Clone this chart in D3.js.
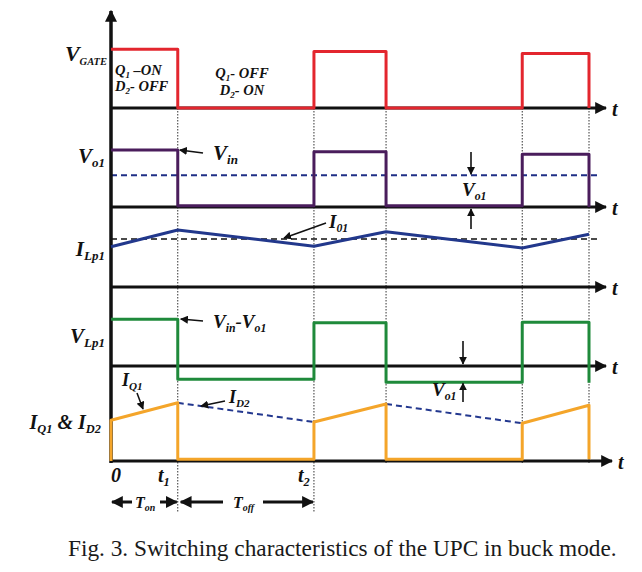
<!DOCTYPE html>
<html>
<head>
<meta charset="utf-8">
<script src="https://cdn.jsdelivr.net/npm/d3@7"></script>
<style>
  body { margin:0; background:#fff; }
  svg  { display:block; }
  .lbl { font-family:"Liberation Serif","Times New Roman",serif; font-weight:bold;
         font-style:italic; fill:#111; }
  .cap { font-family:"Liberation Serif","Times New Roman",serif; fill:#1a1a1a; }
</style>
</head>
<body>
<svg id="chart" width="642" height="572"></svg>
<script>
//------------------------------------------------------------------------
// Waveform data (time in units of Ton, levels relative to each trace's axis)
const edges     = [0, 1.0, 3.04, 4.12, 6.16, 7.16];   // 0, t1, t2, ...
const gateHigh  = [0.98, 0.94, 0.91];
const gateLow   = [0, 0, 0];
const vo1High   = [0.95, 0.92, 0.88];
const vo1Low    = [0.02, 0.02, 0];
const vo1Avg    = 0.53;
const iLp1      = [0.67, 0.95, 0.68, 0.92, 0.65, 0.88];
const i01       = 0.8;
const vLp1High  = [0.78, 0.72, 0.73];
const vLp1Low   = [-0.22, -0.27, -0.28];
const iQ1Start  = [0.68, 0.65, 0.63];
const iQ1Peak   = [0.97, 0.95, 0.93];
const iSwLow    = 0.03;

// Layout
const x0 = 111, tMax = 7.16, xMax = 589;
const baselines = [108, 207, 287, 366, 461];   // gate, Vo1, ILp1, VLp1, IQ1/ID2
const unitPx = 60;

const svg = d3.select('#chart');
const xScale = d3.scaleLinear().domain([0, tMax]).range([x0, xMax]);
const yScales = baselines.map(b => d3.scaleLinear().domain([0, 1]).range([b, b - unitPx]));
const line = (ys) => d3.line().x(d => xScale(d[0])).y(d => ys(d[1]));

// Arrow markers
const defs = svg.append('defs');
[['ah', 8], ['ahBig', 12]].forEach(([id, s]) => {
    defs.append('marker').attr('id', id).attr('viewBox', '0 0 10 10')
        .attr('refX', 9).attr('refY', 5).attr('markerWidth', s).attr('markerHeight', s)
        .attr('markerUnits', 'userSpaceOnUse').attr('orient', 'auto-start-reverse')
        .append('path').attr('d', 'M0,0L10,5L0,10z').attr('fill', '#111');
});

//------------------------------------------------------------------------
// Square pulse builder: high from edges[2k] to edges[2k+1], then lows[k]
function square(highs, lows) {
    const pts = [];
    highs.forEach((h, k) => {
        const a = edges[2*k], b = edges[2*k+1];
        if (k > 0) pts.push([a, lows[k-1]]);
        pts.push([a, h], [b, h], [b, lows[k]]);
        if (k < highs.length - 1) pts.push([edges[2*k+2], lows[k]]);
    });
    return pts;
}

// Switch currents (IQ1 ramps, returns to zero when off)
function switchCurrent() {
    const pts = [[0, 0]];
    iQ1Start.forEach((s, k) => {
        const a = edges[2*k], b = edges[2*k+1];
        if (k > 0) pts.push([a, iSwLow]);
        pts.push([a, s], [b, iQ1Peak[k]], [b, iSwLow]);
        if (k < iQ1Start.length - 1) pts.push([edges[2*k+2], iSwLow]);
    });
    return pts;
}

// Dotted switching instants
const gDot = svg.append('g');
edges.slice(1).forEach((t, i) => {
    gDot.append('line').attr('x1', xScale(t)).attr('x2', xScale(t))
        .attr('y1', baselines[0]).attr('y2', i < 2 ? 513 : 463)
        .attr('stroke', '#333').attr('stroke-width', 1).attr('stroke-dasharray', '1.5,1.5');
});

// Reference dashed lines
svg.append('line').attr('x1', x0).attr('x2', 598)
   .attr('y1', yScales[1](vo1Avg)).attr('y2', yScales[1](vo1Avg))
   .attr('stroke', '#1f2f86').attr('stroke-width', 2).attr('stroke-dasharray', '6,4');
svg.append('line').attr('x1', x0).attr('x2', 600)
   .attr('y1', yScales[2](i01)).attr('y2', yScales[2](i01))
   .attr('stroke', '#111').attr('stroke-width', 1.6).attr('stroke-dasharray', '6,4');

// ID2 dashed ramps
for (let k = 0; k < 2; k++) {
    svg.append('path')
       .datum([[edges[2*k+1], iQ1Peak[k]], [edges[2*k+2], iQ1Start[k+1]]])
       .attr('d', line(yScales[4])).attr('fill', 'none')
       .attr('stroke', '#23388f').attr('stroke-width', 2).attr('stroke-dasharray', '6,4');
}

// Axes
const axisEnds = [606, 606, 606, 606, 612];
baselines.forEach((b, i) => {
    svg.append('line').attr('x1', x0).attr('x2', axisEnds[i]).attr('y1', b).attr('y2', b)
       .attr('stroke', '#111').attr('stroke-width', 3).attr('marker-end', 'url(#ahBig)');
    svg.append('text').attr('class', 'lbl').attr('x', axisEnds[i] + 6).attr('y', b + 8)
       .style('font-size', '20px').text('t');
});
svg.append('line').attr('x1', x0).attr('x2', x0).attr('y1', 463).attr('y2', 11)
   .attr('stroke', '#111').attr('stroke-width', 3.5).attr('marker-end', 'url(#ahBig)');

// Traces
const traces = [
    {pts: square(gateHigh, gateLow), ys: yScales[0], color: '#e3262e'},
    {pts: square(vo1High, vo1Low),   ys: yScales[1], color: '#4a1d5c'},
    {pts: edges.map((t, i) => [t, iLp1[i]]), ys: yScales[2], color: '#22388c'},
    {pts: square(vLp1High, vLp1Low), ys: yScales[3], color: '#1f8a3b'},
    {pts: switchCurrent(),           ys: yScales[4], color: '#f4a52a'}
];
traces.forEach(tr => {
    svg.append('path').datum(tr.pts).attr('d', line(tr.ys))
       .attr('fill', 'none').attr('stroke', tr.color).attr('stroke-width', 3)
       .attr('stroke-linejoin', 'round');
});

//------------------------------------------------------------------------
// Labels: parts = [[text, isSubscript], ...]
function label(x, y, parts, size, anchor, subSize) {
    const t = svg.append('text').attr('class', 'lbl').attr('x', x).attr('y', y)
                 .style('font-size', size + 'px').attr('text-anchor', anchor || 'start');
    const ss = subSize || size * 0.62, drop = size * 0.2;
    let down = false;
    parts.forEach(([s, sub]) => {
        const ts = t.append('tspan').text(s);
        if (sub) ts.style('font-size', ss + 'px');
        if (sub && !down) { ts.attr('dy', drop); down = true; }
        else if (!sub && down) { ts.attr('dy', -drop); down = false; }
    });
}
function arrow(x1, y1, x2, y2, w, m) {
    svg.append('line').attr('x1', x1).attr('y1', y1).attr('x2', x2).attr('y2', y2)
       .attr('stroke', '#111').attr('stroke-width', w || 1.6)
       .attr('marker-end', `url(#${m || 'ah'})`);
}

label(107, 61,  [['V'], ['GATE', 1]], 22, 'end', 10.5);
label(115, 75, [['Q'], ['1', 1], [' –ON']], 14.5);
label(115, 91, [['D'], ['2', 1], ['- OFF']], 14.5);
label(242, 78, [['Q'], ['1', 1], ['- OFF']], 14.5, 'middle');
label(242, 95, [['D'], ['2', 1], ['- ON']], 14.5, 'middle');

label(105, 163,  [['V'], ['o1', 1]], 21, 'end');
label(105, 256,  [['I'], ['Lp1', 1]], 21, 'end');
label(105, 343,  [['V'], ['Lp1', 1]], 21, 'end');
label(101, 429,  [['I'], ['Q1', 1], [' & I'], ['D2', 1]], 20, 'end');

label(213, 160, [['V'], ['in', 1]], 21);
arrow(203, 153, xScale(edges[1]) + 2, 150);
label(213, 328, [['V'], ['in', 1], ['-V'], ['o1', 1]], 19);
arrow(203, 321, xScale(edges[1]) + 3, 319);

label(329, 228, [['I'], ['01', 1]], 19);
arrow(326, 223, 284, yScales[2](i01) - 1);

label(462, 196, [['V'], ['o1', 1]], 19);
arrow(471, 152, 471, yScales[1](vo1Avg) - 1);
arrow(471, 229, 471, baselines[1] + 2);

label(432, 396, [['V'], ['o1', 1]], 19);
arrow(463, 341, 463, baselines[3] - 2);
arrow(463, 402, 463, yScales[3](vLp1Low[1]) + 1);

label(122, 386, [['I'], ['Q1', 1]], 18);
arrow(137, 393, 143, 409);
label(229, 403, [['I'], ['D2', 1]], 18);
arrow(225, 401, 201, 406);

label(x0, 482, [['0']], 20);
label(158, 482, [['t'], ['1', 1]], 20);
label(298, 482, [['t'], ['2', 1]], 20);

// Ton / Toff spans
const yT = 502;
arrow(132, yT, x0 + 1, yT, 3, 'ahBig');
arrow(160, yT, xScale(edges[1]) - 1, yT, 3, 'ahBig');
label(135, 508, [['T'], ['on', 1]], 16);
arrow(223, yT, xScale(edges[1]) + 3, yT, 3, 'ahBig');
arrow(263, yT, xScale(edges[2]) - 1, yT, 3, 'ahBig');
label(233, 508, [['T'], ['off', 1]], 16);

svg.append('text').attr('class', 'cap').attr('x', 68).attr('y', 556)
   .style('font-size', '23.3px')
   .text('Fig. 3. Switching characteristics of the UPC in buck mode.');
</script>
</body>
</html>
